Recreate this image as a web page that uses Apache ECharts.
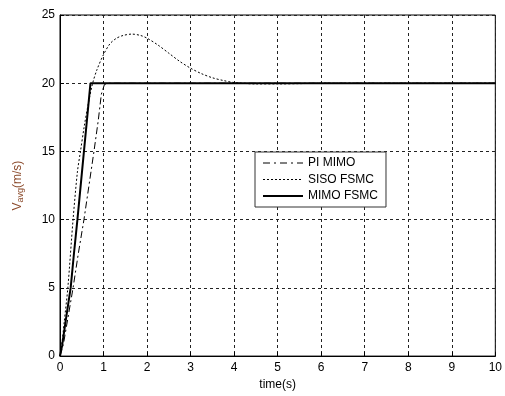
<!DOCTYPE html>
<html>
<head>
<meta charset="utf-8">
<script src="https://cdn.jsdelivr.net/npm/echarts@6/dist/echarts.min.js"></script>
<style>html,body{margin:0;padding:0;background:#fff}#c{width:505px;height:396px}</style>
</head>
<body>
<div id="c"></div>
<script>
var xTicks = [0,1,2,3,4,5,6,7,8,9,10];
var yTicks = [0,5,10,15,20,25];
var seriesNames = ['PI MIMO','SISO FSMC','MIMO FSMC'];

var piTime = [0,0.08,0.15,0.3,0.42,0.55,0.67,0.78,0.88,0.95,1.02,1.1,2,3,4,5,6,7,8,9,10];
var piVal  = [0,0.9,2.2,5,7.5,10,12.6,15,17.3,19.2,19.9,20,20,20,20,20,20,20,20,20,20];

var sisoTime = [0,0.05,0.1,0.18,0.3,0.4,0.47,0.56,0.65,0.75,0.85,1.0,1.15,1.3,1.45,1.65,1.85,2.0,2.25,2.5,2.75,3.0,3.25,3.5,3.75,4.0,4.5,5.0,5.5,6,7,8,9,10];
var sisoVal  = [0,1.1,2.6,5,10,13.5,15,16.9,18.5,20,21,22.1,22.9,23.3,23.5,23.6,23.5,23.3,22.8,22.2,21.6,21.1,20.7,20.4,20.2,20.05,19.95,19.95,19.97,20,20,20,20,20];

var mimoTime = [0,0.05,0.1,0.15,0.245,0.32,0.4,0.55,0.7,1,2,3,4,5,6,7,8,9,10];
var mimoVal  = [0,0.8,1.9,3.0,5,7.5,10,15,20,20,20,20,20,20,20,20,20,20,20];

function pairs(t, v){ return t.map(function(x,i){ return [x, v[i]]; }); }

var font = 'Liberation Sans, Arial, sans-serif';
var chart = echarts.init(document.getElementById('c'), null, {renderer:'canvas'});
chart.setOption({
  animation: false,
  backgroundColor: '#fff',
  textStyle: {fontFamily: font},
  grid: {left: 60, right: 9.5, top: 15, bottom: 38, show: true, borderColor: '#000', borderWidth: 1, containLabel: false},
  legend: {
    orient: 'vertical', left: 255, top: 152,
    backgroundColor: '#fff', borderColor: '#333', borderWidth: 1, borderRadius: 0,
    padding: [5, 8, 5, 7], itemWidth: 40, itemHeight: 14, itemGap: 4.5,
    itemStyle: {opacity: 0},
    textStyle: {fontSize: 12, color: '#000', fontFamily: font},
    data: [
      {name: seriesNames[0], lineStyle: {width: 1, type: [7, 4, 2, 4]}},
      {name: seriesNames[1], lineStyle: {width: 1, type: [2, 2]}},
      {name: seriesNames[2], lineStyle: {width: 2, type: 'solid'}}
    ]
  },
  xAxis: {
    type: 'value', min: xTicks[0], max: xTicks[xTicks.length-1], interval: 1,
    name: 'time(s)', nameLocation: 'middle', nameGap: 17,
    nameTextStyle: {fontSize: 12, color: '#000', fontFamily: font},
    axisLine: {show: true, lineStyle: {color: '#000', width: 1}},
    axisTick: {show: true, inside: true, length: 4, lineStyle: {color: '#000'}},
    axisLabel: {margin: 6, fontSize: 12, color: '#000', fontFamily: font,
      formatter: function(v){ return xTicks.indexOf(v) >= 0 ? String(v) : ''; }},
    splitLine: {show: true, lineStyle: {color: '#222', width: 1, type: [3, 3]}}
  },
  yAxis: {
    type: 'value', min: yTicks[0], max: yTicks[yTicks.length-1], interval: 5,
    name: '{v|V}{s|avg}{v|(m/s)}', nameLocation: 'middle', nameGap: 35,
    nameTextStyle: {fontFamily: font, color: '#8B4A2B',
      rich: {v: {fontSize: 12, color: '#8B4A2B', fontFamily: font},
             s: {fontSize: 9, color: '#8B4A2B', fontFamily: font, verticalAlign: 'bottom', padding: [6,0,0,0]}}},
    axisLine: {show: true, lineStyle: {color: '#000', width: 1}},
    axisTick: {show: true, inside: true, length: 4, lineStyle: {color: '#000'}},
    axisLabel: {margin: 5, fontSize: 12, color: '#000', fontFamily: font},
    splitLine: {show: true, lineStyle: {color: '#222', width: 1, type: [3, 3]}}
  },
  series: [
    {name: seriesNames[0], type: 'line', data: pairs(piTime, piVal), showSymbol: false, symbol: 'none',
     lineStyle: {color: '#000', width: 1, type: [7, 3, 2, 3]}, itemStyle: {color: '#000'}},
    {name: seriesNames[1], type: 'line', data: pairs(sisoTime, sisoVal), showSymbol: false, symbol: 'none', smooth: 0.3,
     lineStyle: {color: '#000', width: 1, type: [2, 2]}, itemStyle: {color: '#000'}},
    {name: seriesNames[2], type: 'line', data: pairs(mimoTime, mimoVal), showSymbol: false, symbol: 'none',
     lineStyle: {color: '#000', width: 2, type: 'solid'}, itemStyle: {color: '#000'}}
  ]
});
</script>
</body>
</html>
